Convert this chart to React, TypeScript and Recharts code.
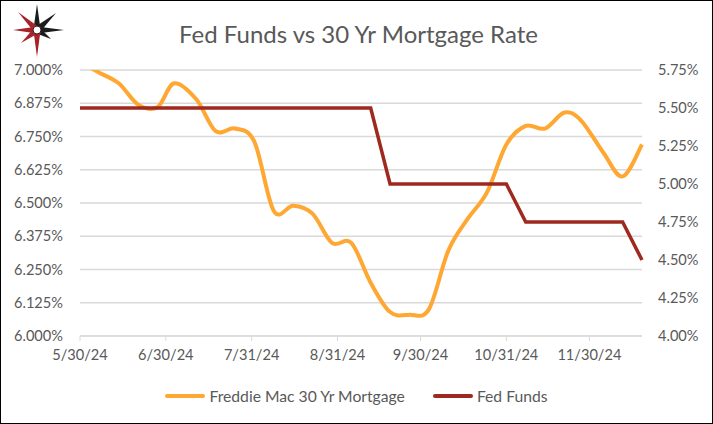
import { CartesianGrid, Line, LineChart, XAxis, YAxis } from "recharts";

// weekly Freddie Mac PMMS dates (Thursdays, holiday weeks on Wednesday)
const weeks = [
  "2024-05-30", "2024-06-06", "2024-06-13", "2024-06-20", "2024-06-27",
  "2024-07-03", "2024-07-11", "2024-07-18", "2024-07-25", "2024-08-01",
  "2024-08-08", "2024-08-15", "2024-08-22", "2024-08-29", "2024-09-05",
  "2024-09-12", "2024-09-19", "2024-09-26", "2024-10-03", "2024-10-10",
  "2024-10-17", "2024-10-24", "2024-10-31", "2024-11-07", "2024-11-14",
  "2024-11-21", "2024-11-27", "2024-12-05", "2024-12-12", "2024-12-19",
];

const mortgageRate = [
  7.03, 6.99, 6.95, 6.87, 6.86,
  6.95, 6.89, 6.77, 6.78, 6.73,
  6.47, 6.49, 6.46, 6.35, 6.35,
  6.2, 6.09, 6.08, 6.1, 6.32,
  6.44, 6.54, 6.72, 6.79, 6.78,
  6.84, 6.81, 6.69, 6.6, 6.72,
];

const fedFunds = [
  5.5, 5.5, 5.5, 5.5, 5.5,
  5.5, 5.5, 5.5, 5.5, 5.5,
  5.5, 5.5, 5.5, 5.5, 5.5,
  5.5, 5.0, 5.0, 5.0, 5.0,
  5.0, 5.0, 5.0, 4.75, 4.75,
  4.75, 4.75, 4.75, 4.75, 4.5,
];

const xTickDates = ["2024-05-30", "2024-06-30", "2024-07-31", "2024-08-31", "2024-09-30", "2024-10-31", "2024-11-30"];
const leftTicks = [6, 6.125, 6.25, 6.375, 6.5, 6.625, 6.75, 6.875, 7];
const rightTicks = [4, 4.25, 4.5, 4.75, 5, 5.25, 5.5, 5.75];

const ORANGE = "#FFA733";
const RED = "#9E2A1F";
const TEXT = "#595959";
const GRID = "#D9D9D9";

const data = weeks.map((d, i) => ({
  t: Date.parse(d),
  mortgage: mortgageRate[i],
  fed: fedFunds[i],
}));

const fmtDate = (t: number) => {
  const d = new Date(t);
  return `${d.getUTCMonth() + 1}/${d.getUTCDate()}/${String(d.getUTCFullYear()).slice(2)}`;
};

// Excel-style smoothed line (Catmull-Rom, control points at 1/6)
function excelSmooth(ctx: any) {
  let pts: [number, number][] = [];
  return {
    areaStart() {},
    areaEnd() {},
    lineStart() {
      pts = [];
    },
    point(x: number, y: number) {
      pts.push([+x, +y]);
    },
    lineEnd() {
      if (!pts.length) return;
      ctx.moveTo(pts[0][0], pts[0][1]);
      for (let i = 0; i < pts.length - 1; i++) {
        const p0 = pts[Math.max(i - 1, 0)];
        const p1 = pts[i];
        const p2 = pts[i + 1];
        const p3 = pts[Math.min(i + 2, pts.length - 1)];
        ctx.bezierCurveTo(
          p1[0] + (p2[0] - p0[0]) / 6,
          p1[1] + (p2[1] - p0[1]) / 6,
          p2[0] - (p3[0] - p1[0]) / 6,
          p2[1] - (p3[1] - p1[1]) / 6,
          p2[0],
          p2[1]
        );
      }
    },
  };
}

function Logo() {
  const cx = 36;
  const cy = 29;
  const spikes: [number, number, string][] = [
    [0, -26, "#1c1c1c"],
    [27, 0, "#1c1c1c"],
    [19, -17, "#1c1c1c"],
    [14, 9, "#1c1c1c"],
    [0, 27, "#A8222A"],
    [-24, 0, "#A8222A"],
    [-19, -18, "#A8222A"],
    [-16, 13, "#A8222A"],
  ];
  return (
    <svg width={75} height={62} style={{ position: "absolute", left: 0, top: 0 }}>
      {spikes.map(([dx, dy, c], i) => {
        const len = Math.hypot(dx, dy);
        const px = (-dy / len) * 3.6;
        const py = (dx / len) * 3.6;
        return (
          <polygon
            key={i}
            points={`${cx + dx},${cy + dy} ${cx + px},${cy + py} ${cx - px},${cy - py}`}
            fill={c}
          />
        );
      })}
      <circle cx={cx} cy={cy} r={4} fill="#fff" stroke="#3a1a1a" strokeWidth={1} />
    </svg>
  );
}

export default function App() {
  return (
    <div
      style={{
        position: "relative",
        width: 713,
        height: 424,
        border: "1px solid #000",
        boxSizing: "border-box",
        background: "#fff",
        fontFamily: "Lato, 'Noto Sans', sans-serif",
      }}
    >
      <style>{"body{margin:0}"}</style>
      <Logo />
      <div
        style={{
          position: "absolute",
          top: 18,
          left: 2,
          width: 711,
          textAlign: "center",
          fontSize: 24,
          color: TEXT,
          lineHeight: "30px",
        }}
      >
        Fed Funds vs 30 Yr Mortgage Rate
      </div>
      <LineChart width={711} height={422} data={data} margin={{ top: 69, right: 0, bottom: 57, left: 0 }}>
        <CartesianGrid yAxisId="left" vertical={false} stroke={GRID} strokeWidth={1.3} />
        <XAxis
          dataKey="t"
          type="number"
          scale="time"
          domain={[data[0].t, data[data.length - 1].t]}
          ticks={xTickDates.map((d) => Date.parse(d))}
          tickFormatter={fmtDate}
          height={30}
          stroke={GRID}
          tickSize={5}
          tickMargin={9}
          tick={{ fill: TEXT, fontSize: 14.6 }}
          interval={0}
        />
        <YAxis
          yAxisId="left"
          width={79}
          domain={[6, 7]}
          allowDataOverflow
          ticks={leftTicks}
          tickFormatter={(v: number) => `${v.toFixed(3)}%`}
          axisLine={false}
          tickLine={false}
          tickSize={0}
          tickMargin={17}
          tick={{ fill: TEXT, fontSize: 14.6 }}
        />
        <YAxis
          yAxisId="right"
          orientation="right"
          width={70}
          domain={[4, 5.75]}
          ticks={rightTicks}
          tickFormatter={(v: number) => `${v.toFixed(2)}%`}
          axisLine={false}
          tickLine={false}
          tickSize={0}
          tickMargin={16}
          tick={{ fill: TEXT, fontSize: 14.6, textAnchor: "start" }}
        />
        <Line
          yAxisId="left"
          dataKey="mortgage"
          type={excelSmooth as any}
          stroke={ORANGE}
          strokeWidth={4}
          dot={false}
          isAnimationActive={false}
        />
        <Line
          yAxisId="right"
          dataKey="fed"
          type="linear"
          stroke={RED}
          strokeWidth={3.5}
          dot={false}
          isAnimationActive={false}
        />
      </LineChart>
      <div
        style={{
          position: "absolute",
          top: 385,
          left: 0,
          width: 711,
          display: "flex",
          justifyContent: "center",
          alignItems: "center",
          gap: 28,
          fontSize: 15.7,
          color: TEXT,
          lineHeight: "20px",
        }}
      >
        {[
          ["Freddie Mac 30 Yr Mortgage", ORANGE],
          ["Fed Funds", RED],
        ].map(([label, c]) => (
          <div key={label} style={{ display: "flex", alignItems: "center", gap: 4 }}>
            <span style={{ display: "inline-block", width: 40, height: 4, borderRadius: 2, background: c }} />
            <span>{label}</span>
          </div>
        ))}
      </div>
    </div>
  );
}
